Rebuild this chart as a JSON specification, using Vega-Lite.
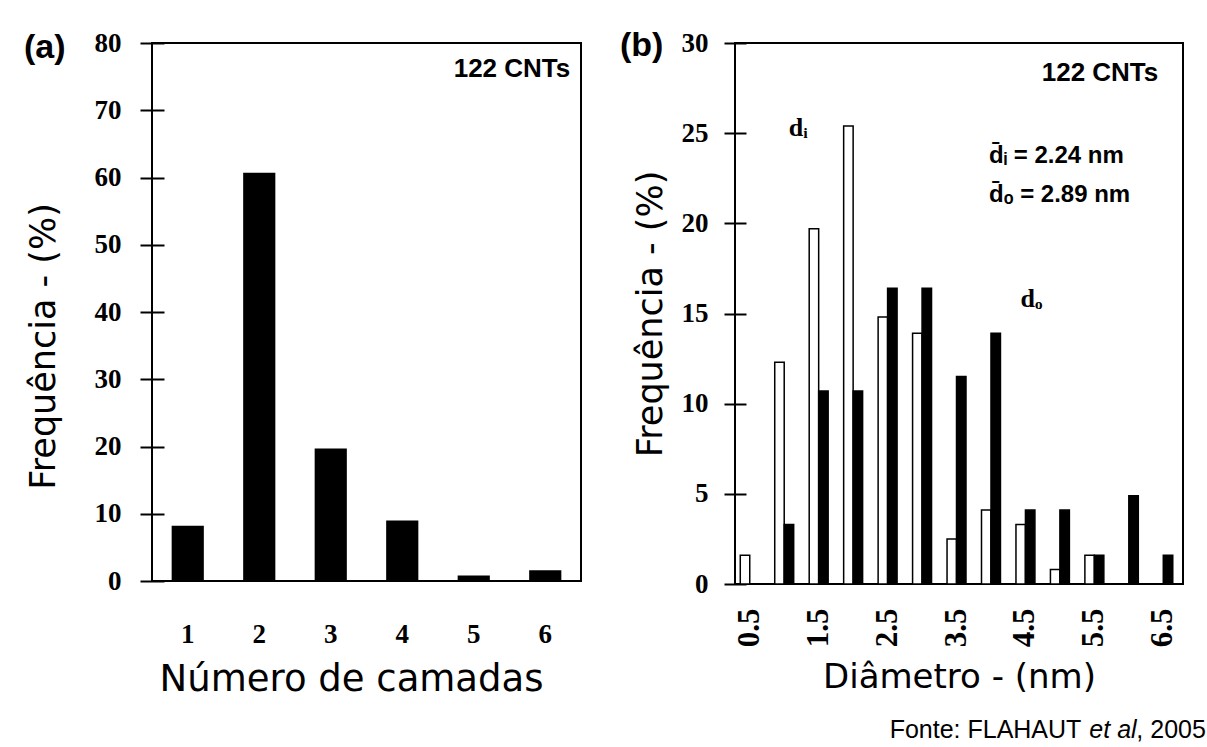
{
  "$schema": "https://vega.github.io/schema/vega-lite/v6.json",
  "background": "white",
  "padding": {"left": 23, "top": 28, "right": 0, "bottom": 0},
  "bounds": "flush",
  "spacing": 154,
  "datasets": {
    "camadas": [
      {"camadas": "1", "freq": 8.2},
      {"camadas": "2", "freq": 60.7},
      {"camadas": "3", "freq": 19.7},
      {"camadas": "4", "freq": 9.0},
      {"camadas": "5", "freq": 0.8},
      {"camadas": "6", "freq": 1.6}
    ],
    "diametro": [
      {"d": "0.5", "serie": "di", "freq": 1.6},
      {"d": "1.0", "serie": "di", "freq": 12.3},
      {"d": "1.5", "serie": "di", "freq": 19.7},
      {"d": "2.0", "serie": "di", "freq": 25.4},
      {"d": "2.5", "serie": "di", "freq": 14.8},
      {"d": "3.0", "serie": "di", "freq": 13.9},
      {"d": "3.5", "serie": "di", "freq": 2.5},
      {"d": "4.0", "serie": "di", "freq": 4.1},
      {"d": "4.5", "serie": "di", "freq": 3.3},
      {"d": "5.0", "serie": "di", "freq": 0.8},
      {"d": "5.5", "serie": "di", "freq": 1.6},
      {"d": "6.0", "serie": "di", "freq": 0},
      {"d": "6.5", "serie": "di", "freq": 0},
      {"d": "0.5", "serie": "do", "freq": 0},
      {"d": "1.0", "serie": "do", "freq": 3.3},
      {"d": "1.5", "serie": "do", "freq": 10.7},
      {"d": "2.0", "serie": "do", "freq": 10.7},
      {"d": "2.5", "serie": "do", "freq": 16.4},
      {"d": "3.0", "serie": "do", "freq": 16.4},
      {"d": "3.5", "serie": "do", "freq": 11.5},
      {"d": "4.0", "serie": "do", "freq": 13.9},
      {"d": "4.5", "serie": "do", "freq": 4.1},
      {"d": "5.0", "serie": "do", "freq": 4.1},
      {"d": "5.5", "serie": "do", "freq": 1.6},
      {"d": "6.0", "serie": "do", "freq": 4.9},
      {"d": "6.5", "serie": "do", "freq": 1.6}
    ],
    "um": [{}]
  },
  "hconcat": [
    {
      "width": 429,
      "height": 538,
      "title": {"text": "(a)", "anchor": "start", "frame": "group", "orient": "top", "offset": -39, "dx": -128, "dy": 24, "baseline": "alphabetic", "font": "Liberation Sans", "fontSize": 34, "fontWeight": "bold", "color": "black"},
      "layer": [
        {
          "data": {"name": "camadas"},
          "mark": {"type": "bar", "color": "black"},
          "encoding": {
            "x": {
              "field": "camadas", "type": "ordinal",
              "scale": {"paddingInner": 0.55, "paddingOuter": 0.275},
              "axis": {"title": "Número de camadas", "titleFontSize": 37, "titlePadding": 14, "titleX": 199, "labelAngle": 0, "labelFontSize": 27, "labelPadding": 40, "ticks": false}
            },
            "y": {
              "field": "freq", "type": "quantitative",
              "scale": {"domain": [0, 80], "nice": false},
              "axis": {"title": "Frequência - (%)", "titleFontSize": 35, "titlePadding": 33, "titleY": 303, "values": [0, 10, 20, 30, 40, 50, 60, 70, 80], "labelFontSize": 27, "labelPadding": 19, "tickSize": 24, "offset": -12}
            }
          }
        },
        {
          "data": {"name": "um"},
          "mark": {"type": "text", "align": "right", "baseline": "alphabetic", "dx": 25, "font": "Liberation Sans", "fontWeight": "bold", "fontSize": 26, "color": "black"},
          "encoding": {
            "x": {"datum": "6", "type": "ordinal"},
            "y": {"datum": 74.9, "type": "quantitative"},
            "text": {"value": "122 CNTs"}
          }
        }
      ]
    },
    {
      "width": 448,
      "height": 541,
      "title": {"text": "(b)", "anchor": "start", "frame": "group", "orient": "top", "offset": -39, "dx": -115, "dy": 22, "baseline": "alphabetic", "font": "Liberation Sans", "fontSize": 34, "fontWeight": "bold", "color": "black"},
      "layer": [
        {
          "data": {"name": "diametro"},
          "mark": {"type": "bar", "stroke": "black", "strokeWidth": 1.5},
          "encoding": {
            "x": {
              "field": "d", "type": "ordinal",
              "scale": {"domain": ["0.5", "1.0", "1.5", "2.0", "2.5", "3.0", "3.5", "4.0", "4.5", "5.0", "5.5", "6.0", "6.5"], "paddingInner": 0.45, "paddingOuter": 0.225, "align": 0.34},
              "axis": {"title": "Diâmetro - (nm)", "titleFontSize": 34, "titlePadding": 14, "values": ["0.5", "1.5", "2.5", "3.5", "4.5", "5.5", "6.5"], "labelAngle": -90, "labelFontSize": 31, "labelPadding": 24, "ticks": false}
            },
            "xOffset": {"field": "serie", "type": "nominal", "scale": {"paddingInner": 0, "paddingOuter": 0}},
            "y": {
              "field": "freq", "type": "quantitative",
              "scale": {"domain": [0, 30], "nice": false},
              "axis": {"title": "Frequência - (%)", "titleFontSize": 35, "titlePadding": 13, "values": [0, 5, 10, 15, 20, 25, 30], "labelFontSize": 27, "labelPadding": 16, "tickSize": 22, "offset": -11}
            },
            "fill": {"field": "serie", "type": "nominal", "scale": {"domain": ["di", "do"], "range": ["white", "black"]}, "legend": null}
          }
        },
        {
          "data": {"name": "um"},
          "mark": {"type": "text", "align": "right", "baseline": "alphabetic", "dx": -5, "font": "Liberation Sans", "fontWeight": "bold", "fontSize": 26, "color": "black"},
          "encoding": {
            "x": {"datum": "6.5", "type": "ordinal"},
            "y": {"datum": 27.87, "type": "quantitative"},
            "text": {"value": "122 CNTs"}
          }
        },
        {
          "data": {"name": "um"},
          "mark": {"type": "text", "align": "left", "baseline": "alphabetic", "dx": -2, "font": "Liberation Sans", "fontWeight": "bold", "fontSize": 24, "color": "black"},
          "encoding": {
            "x": {"datum": "4.0", "type": "ordinal"},
            "y": {"datum": 23.33, "type": "quantitative"},
            "text": {"value": "d̄ᵢ = 2.24 nm"}
          }
        },
        {
          "data": {"name": "um"},
          "mark": {"type": "text", "align": "left", "baseline": "alphabetic", "dx": -2, "font": "Liberation Sans", "fontWeight": "bold", "fontSize": 24, "color": "black"},
          "encoding": {
            "x": {"datum": "4.0", "type": "ordinal"},
            "y": {"datum": 21.2, "type": "quantitative"},
            "text": {"value": "d̄ₒ = 2.89 nm"}
          }
        },
        {
          "data": {"name": "um"},
          "mark": {"type": "text", "align": "center", "baseline": "alphabetic", "dx": 14, "font": "Liberation Serif", "fontWeight": "bold", "fontSize": 26, "color": "black"},
          "encoding": {
            "x": {"datum": "1.0", "type": "ordinal"},
            "y": {"datum": 24.87, "type": "quantitative"},
            "text": {"value": "dᵢ"}
          }
        },
        {
          "data": {"name": "um"},
          "mark": {"type": "text", "align": "center", "baseline": "alphabetic", "dx": 6, "font": "Liberation Serif", "fontWeight": "bold", "fontSize": 26, "color": "black"},
          "encoding": {
            "x": {"datum": "4.5", "type": "ordinal"},
            "y": {"datum": 15.37, "type": "quantitative"},
            "text": {"value": "dₒ"}
          }
        },
        {
          "data": {"name": "um"},
          "mark": {"type": "text", "align": "right", "baseline": "alphabetic", "dx": -13, "font": "Liberation Sans", "fontSize": 25, "color": "black"},
          "encoding": {
            "x": {"datum": "5.5", "type": "ordinal"},
            "y": {"datum": -8.55, "type": "quantitative"},
            "text": {"value": "Fonte:  FLAHAUT"}
          }
        },
        {
          "data": {"name": "um"},
          "mark": {"type": "text", "align": "left", "baseline": "alphabetic", "dx": -5, "font": "Liberation Sans", "fontStyle": "italic", "fontSize": 25, "color": "black"},
          "encoding": {
            "x": {"datum": "5.5", "type": "ordinal"},
            "y": {"datum": -8.55, "type": "quantitative"},
            "text": {"value": "et al"}
          }
        },
        {
          "data": {"name": "um"},
          "mark": {"type": "text", "align": "left", "baseline": "alphabetic", "dx": 42, "font": "Liberation Sans", "fontSize": 25, "color": "black"},
          "encoding": {
            "x": {"datum": "5.5", "type": "ordinal"},
            "y": {"datum": -8.55, "type": "quantitative"},
            "text": {"value": ", 2005"}
          }
        }
      ]
    }
  ],
  "config": {
    "view": {"stroke": "black", "strokeWidth": 2},
    "axis": {"grid": false, "domain": false, "tickColor": "black", "tickWidth": 2, "labelColor": "black", "titleColor": "black", "labelFont": "Liberation Serif", "labelFontWeight": "bold", "titleFont": "DejaVu Sans", "titleFontWeight": "normal", "labelOverlap": false}
  }
}
